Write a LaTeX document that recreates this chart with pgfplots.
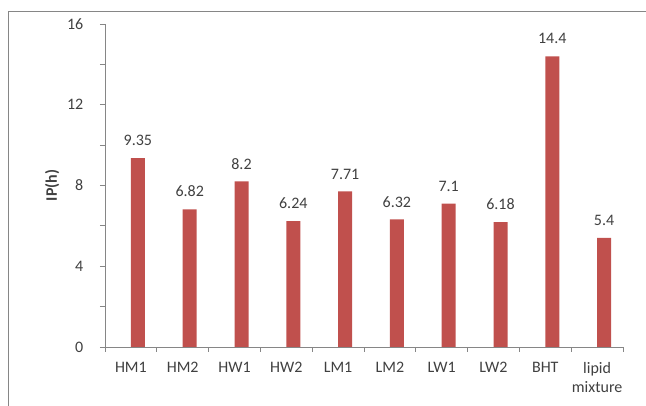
\documentclass[border=0pt]{standalone}
\usepackage{pgfplots}
\pgfplotsset{compat=1.18}
\usepackage{fontspec}
\setmainfont{Carlito}
\definecolor{barred}{HTML}{C0504D}
\definecolor{axgray}{HTML}{868686}
\definecolor{txt}{HTML}{404040}
\begin{document}
\begin{tikzpicture}[x=1pt,y=1pt]
\useasboundingbox (0,0) rectangle (646,406);
% chart frame
\draw[axgray, line width=1pt] (8,0) -- (8,394) -- (646,394);
\begin{axis}[
  at={(105pt,59pt)}, anchor=south west,
  scale only axis, width=518pt, height=323pt,
  xmin=-0.5, xmax=9.5, ymin=0, ymax=16,
  axis lines*=left,
  axis line style={axgray, line width=0.8pt},
  ytick={0,4,8,12,16},
  minor ytick={2,6,10,14},
  xtick={0,...,9},
  xticklabels={HM1,HM2,HW1,HW2,LM1,LM2,LW1,LW2,BHT,{lipid\\mixture}},
  minor xtick={-0.5,0.5,...,9.5},
  major x tick style={draw=none},
  minor tick length=5pt, major tick length=5pt,
  tick align=outside,
  tick style={axgray, line width=0.8pt},
  tick label style={font=\fontsize{16}{18.5}\selectfont, text=txt},
  xticklabel style={align=center},
  xticklabel shift=7pt,
  yticklabel style={inner xsep=16.5pt},
  /pgf/number format/assume math mode=true,
  ylabel={\textbf{IP(h)}},
  ylabel style={at={(axis description cs:-0.102,0.5)}, anchor=center, font=\fontsize{16}{18.5}\selectfont, text=txt},
  ybar, bar width=14pt, bar shift=7pt,
  nodes near coords,
  every node near coord/.append style={font=\fontsize{16}{18.5}\selectfont, text=txt, anchor=south, inner sep=0pt, yshift=12pt},
]
\addplot[fill=barred, draw=none] coordinates {
(0,9.35) (1,6.82) (2,8.2) (3,6.24) (4,7.71) (5,6.32) (6,7.1) (7,6.18) (8,14.4) (9,5.4)
};
\end{axis}
\end{tikzpicture}
\end{document}
